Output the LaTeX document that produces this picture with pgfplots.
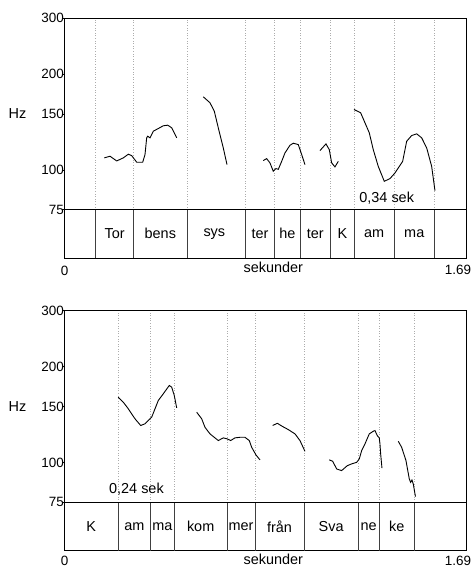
\documentclass[border=0pt]{standalone}
\usepackage{fontspec}
\setmainfont{Liberation Sans}
\usepackage{pgfplots}
\pgfplotsset{compat=1.18}

\tikzset{
  pitch/.style={black, line width=0.9bp},
  bnd/.style={gray!65, line width=0.6bp, dotted},
  tierline/.style={black!75, line width=0.8bp},
  lbl/.style={font=\fontsize{14.5}{16}\selectfont},
  numlbl/.style={font=\fontsize{13.5}{15}\selectfont, inner sep=1pt},
}

\begin{document}
\begin{tikzpicture}[x=1bp,y=1bp]
\path[use as bounding box] (0,0) rectangle (473,569);

% ---- upper panel ----
\begin{axis}[
    at={(64bp,311bp)}, anchor=south west,
    scale only axis,
    width=402bp, height=240bp,
    xmin=0, xmax=1.69,
    ymode=log, ymin=52.9, ymax=300,
    enlargelimits=false,
    axis line style={black, line width=0.8bp},
    xtick=\empty,
    ytick={75,100,150,200,300},
    yticklabels={75,100,150,200,300},
    ytick pos=left,
    tick align=outside,
    major tick length=2bp,
    tick style={black, line width=0.6bp},
    yticklabel style={font=\fontsize{13.5}{15}\selectfont, inner sep=0pt, anchor=east, xshift=2bp},
    clip=false
]
\pgfplotsinvokeforeach{0.133,0.293,0.517,0.762,0.886,0.992,1.121,1.220,1.388,1.557}{
  \draw[bnd] (axis cs:#1,75) -- (axis cs:#1,300);
  \draw[tierline] (axis cs:#1,52.9) -- (axis cs:#1,75);
}
\draw[black, line width=0.8bp] (axis cs:0,75) -- (axis cs:1.69,75);
\draw[black, line width=0.8bp] (axis cs:1.69,52.9) -- ++(0,-4bp);

\addplot[pitch, no marks] coordinates {
  (0.1694,109.1) (0.1934,110.4) (0.2215,106.7) (0.2493,109.1) (0.2703,112.0)
  (0.2846,110.9) (0.3056,105.7) (0.3308,105.7) (0.3405,111.7) (0.3476,126.1)
  (0.3518,127.6) (0.3615,126.1) (0.3754,132.3) (0.3964,134.9) (0.4174,137.6)
  (0.4359,138.2) (0.4527,135.6) (0.4737,126.1)
};
\addplot[pitch, no marks] coordinates {
  (0.5855,169.7) (0.6137,162.5) (0.6318,152.9) (0.6486,135.6) (0.6696,117.3) (0.6852,103.9)
};
\addplot[pitch, no marks] coordinates {
  (0.8377,107.0) (0.8520,108.5) (0.8659,105.2) (0.8798,99.0) (0.8911,101.0)
  (0.9008,100.4) (0.9151,106.4) (0.9290,113.1) (0.9500,119.5) (0.9639,121.3)
  (0.9849,120.1) (0.9992,111.7) (1.0130,103.9)
};
\addplot[pitch, no marks] coordinates {
  (1.0761,115.0) (1.1013,120.7) (1.1152,115.8) (1.1253,105.2) (1.1391,102.2) (1.1530,106.4)
};
\addplot[pitch, no marks] coordinates {
  (1.2190,154.8) (1.2472,151.1) (1.2652,140.6) (1.2833,130.8) (1.3001,115.8)
  (1.3211,102.6) (1.3464,92.1) (1.3703,93.9) (1.3913,97.8) (1.4237,106.4)
  (1.4405,123.0) (1.4615,128.2) (1.4826,129.8) (1.5036,126.1) (1.5246,117.3)
  (1.5456,102.6) (1.5595,86.1)
};

\node[lbl] at (axis cs:0.213,63) {Tor};
\node[lbl] at (axis cs:0.405,63) {bens};
\node[lbl] at (axis cs:0.632,63) {sys};
\node[lbl] at (axis cs:0.824,63) {ter};
\node[lbl] at (axis cs:0.939,63) {he};
\node[lbl] at (axis cs:1.0565,63) {ter};
\node[lbl] at (axis cs:1.1705,63) {K};
\node[lbl] at (axis cs:1.304,63) {am};
\node[lbl] at (axis cs:1.4725,63) {ma};

\node[lbl, anchor=west, inner sep=0pt] at (axis cs:1.241,81.8) {0,34 sek};
\node[lbl, xshift=-46.5bp] at (axis cs:0,150) {Hz};
\node[lbl, yshift=-9.5bp] at (axis cs:0.88,52.9) {sekunder};
\node[numlbl, yshift=-12.5bp, xshift=0.7bp] at (axis cs:0,52.9) {0};
\node[numlbl, yshift=-12bp, xshift=-8bp] at (axis cs:1.69,52.9) {1.69};
\end{axis}

% ---- lower panel ----
\begin{axis}[
    at={(64bp,18.3bp)}, anchor=south west,
    scale only axis,
    width=402bp, height=240bp,
    xmin=0, xmax=1.69,
    ymode=log, ymin=52.9, ymax=300,
    enlargelimits=false,
    axis line style={black, line width=0.8bp},
    xtick=\empty,
    ytick={75,100,150,200,300},
    yticklabels={75,100,150,200,300},
    ytick pos=left,
    tick align=outside,
    major tick length=2bp,
    tick style={black, line width=0.6bp},
    yticklabel style={font=\fontsize{13.5}{15}\selectfont, inner sep=0pt, anchor=east, xshift=2bp},
    clip=false
]
\pgfplotsinvokeforeach{0.228,0.364,0.464,0.685,0.803,1.009,1.237,1.325,1.472}{
  \draw[bnd] (axis cs:#1,75) -- (axis cs:#1,300);
  \draw[tierline] (axis cs:#1,52.9) -- (axis cs:#1,75);
}
\draw[black, line width=0.8bp] (axis cs:0,75) -- (axis cs:1.69,75);
\draw[black, line width=0.8bp] (axis cs:1.69,52.9) -- ++(0,-4bp);

\addplot[pitch, no marks] coordinates {
  (0.2282,160.5) (0.2493,154.8) (0.2703,147.6) (0.2984,137.3) (0.3224,130.8)
  (0.3405,132.4) (0.3686,138.9) (0.3964,156.7) (0.4174,164.5) (0.4426,174.7)
  (0.4527,172.6) (0.4636,162.5) (0.4737,148.6)
};
\addplot[pitch, no marks] coordinates {
  (0.5578,144.0) (0.5788,137.3) (0.5927,129.1) (0.6137,123.1) (0.6486,117.3)
  (0.6696,119.6) (0.6864,118.7) (0.7007,117.3) (0.7188,119.6) (0.7398,120.1)
  (0.7608,120.1) (0.7789,117.3) (0.7890,111.7) (0.8071,105.7) (0.8239,102.0)
};
\addplot[pitch, no marks] coordinates {
  (0.8773,130.8) (0.8966,132.9) (0.9193,129.8) (0.9428,127.0) (0.9710,123.1)
  (0.9920,117.3) (1.0130,108.5)
};
\addplot[pitch, no marks] coordinates {
  (1.1152,102.0) (1.1295,101.0) (1.1463,95.5) (1.1673,94.4) (1.1908,97.8)
  (1.2093,99.1) (1.2303,100.2) (1.2413,102.7) (1.2514,109.1) (1.2652,114.5)
  (1.2833,123.1) (1.3001,125.5) (1.3073,126.1) (1.3169,121.6) (1.3253,119.6)
  (1.3283,114.5) (1.3312,106.5) (1.3367,96.1)
};
\addplot[pitch, no marks] coordinates {
  (1.4052,116.7) (1.4195,111.7) (1.4376,101.5) (1.4515,88.9) (1.4573,86.7)
  (1.4628,88.2) (1.4683,85.7) (1.4775,78.2)
};

\node[lbl] at (axis cs:0.114,63) {K};
\node[lbl] at (axis cs:0.296,63) {am};
\node[lbl] at (axis cs:0.414,63) {ma};
\node[lbl] at (axis cs:0.5745,63) {kom};
\node[lbl] at (axis cs:0.744,63) {mer};
\node[lbl] at (axis cs:0.906,63) {från};
\node[lbl] at (axis cs:1.123,63) {Sva};
\node[lbl] at (axis cs:1.281,63) {ne};
\node[lbl] at (axis cs:1.3985,63) {ke};

\node[lbl, anchor=west, inner sep=0pt] at (axis cs:0.189,82.5) {0,24 sek};
\node[lbl, xshift=-46.5bp] at (axis cs:0,150) {Hz};
\node[lbl, inner sep=1pt, yshift=-9bp] at (axis cs:0.88,52.9) {sekunder};
\node[numlbl, yshift=-10.5bp, xshift=0.7bp] at (axis cs:0,52.9) {0};
\node[numlbl, yshift=-10.5bp, xshift=-8bp] at (axis cs:1.69,52.9) {1.69};
\end{axis}
\end{tikzpicture}
\end{document}
